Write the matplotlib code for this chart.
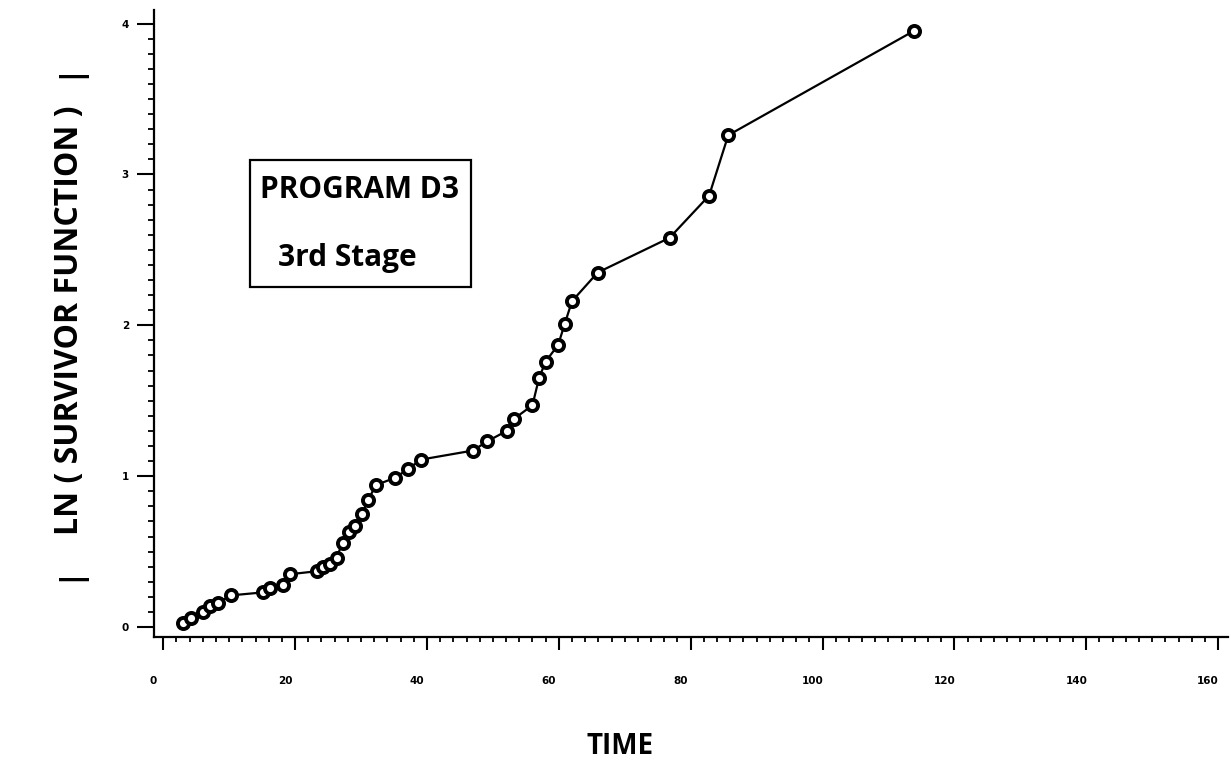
import numpy as np
import matplotlib
matplotlib.use("Agg")
import matplotlib.pyplot as plt
from matplotlib.patches import Rectangle
from matplotlib.transforms import ScaledTranslation
from matplotlib.ticker import MultipleLocator

# time / ln(survivor function)
time = [3.0, 4.2, 6.1, 7.1, 8.3, 10.3, 15.2, 16.2, 18.2, 19.2,
        23.3, 24.3, 25.3, 26.3, 27.2, 28.2, 29.1, 30.1, 31.1, 32.2,
        35.2, 37.2, 39.1, 47.0, 49.1, 52.1, 53.2, 56.0, 57.0, 58.0,
        59.9, 60.9, 62.0, 65.9, 76.8, 82.8, 85.7, 113.8]
ln_surv = [0.03, 0.06, 0.10, 0.14, 0.16, 0.21, 0.23, 0.26, 0.28, 0.35,
           0.37, 0.40, 0.42, 0.46, 0.56, 0.63, 0.67, 0.75, 0.84, 0.94,
           0.99, 1.05, 1.11, 1.17, 1.23, 1.30, 1.38, 1.47, 1.65, 1.76,
           1.87, 2.01, 2.16, 2.35, 2.58, 2.86, 3.26, 3.95]

xticks = [0, 20, 40, 60, 80, 100, 120, 140, 160]
yticks = [0, 1, 2, 3, 4]

W, H = 1231, 766
fnt = ["Open Sans", "DejaVu Sans"]
fig = plt.figure(figsize=(W / 100, H / 100), dpi=100)
ax = fig.add_axes([154 / W, 1 - 637 / H, (1228 - 154) / W, (637 - 10) / H])

ax.plot(time, ln_surv, color="black", lw=1.6, marker="o", ms=8,
        mfc="white", mec="black", mew=2.8)

ax.set_xlim(-1.4, 161.5)
ax.set_ylim(-0.066, 4.09)
ax.set_xticks(xticks)
ax.set_yticks(yticks)
ax.xaxis.set_minor_locator(MultipleLocator(2))
ax.yaxis.set_minor_locator(MultipleLocator(0.1))

for s in ["top", "right"]:
    ax.spines[s].set_visible(False)
for s in ["left", "bottom"]:
    ax.spines[s].set_linewidth(1.6)

ax.tick_params(axis="x", which="major", length=9, width=1.5, pad=19)
ax.tick_params(axis="x", which="minor", length=3.5, width=1.3)
ax.tick_params(axis="y", which="major", length=12, width=1.5, pad=6)
ax.tick_params(axis="y", which="minor", length=4.5, width=1.3)

for lbl in ax.get_xticklabels() + ax.get_yticklabels():
    lbl.set_fontsize(7.5)
    lbl.set_fontweight("bold")
# the printed x labels sit a bit left of their ticks
for lbl in ax.get_xticklabels():
    lbl.set_transform(lbl.get_transform() + ScaledTranslation(-0.1, 0, fig.dpi_scale_trans))

fig.text(620 / W, 1 - 746 / H, "TIME", ha="center", va="center",
         fontsize=20, fontweight="bold", family=fnt)

# y label with the bars printed around it
fig.text(70 / W, 1 - 320 / H, "LN ( SURVIVOR FUNCTION )", rotation=90,
         ha="center", va="center", fontsize=23, fontweight="bold", family=fnt)
for yb in [70, 573]:
    fig.text(68 / W, 1 - yb / H, "|", rotation=90, ha="center", va="center",
             fontsize=22, fontweight="bold", family=fnt)

# legend-like box
fig.patches.append(Rectangle((250 / W, 1 - 287 / H), (471 - 250) / W, (287 - 160) / H,
                             transform=fig.transFigure, fill=False, lw=1.6, ec="black"))
fig.text(260 / W, 1 - 190 / H, "PROGRAM D3", ha="left", va="center",
         fontsize=21.5, fontweight="bold", family=fnt)
fig.text(278 / W, 1 - 258 / H, "3rd Stage", ha="left", va="center",
         fontsize=21.5, fontweight="bold", family=fnt)

fig.savefig("out.png", dpi=100)
